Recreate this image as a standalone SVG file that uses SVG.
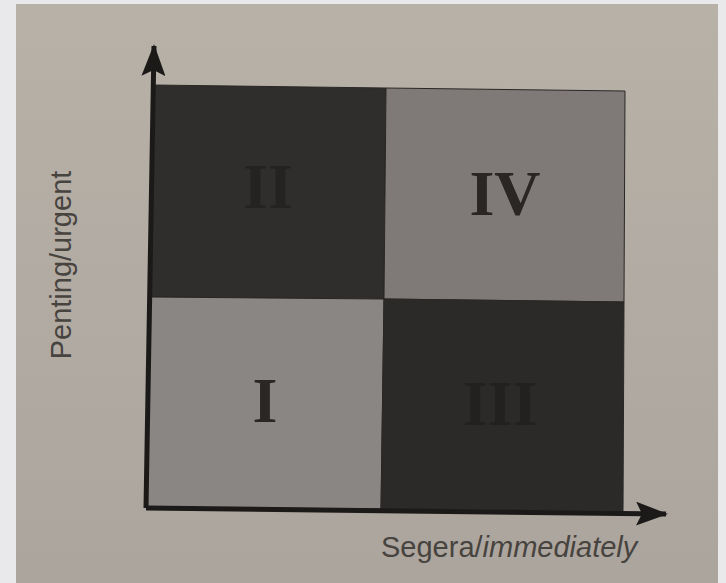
<svg xmlns="http://www.w3.org/2000/svg" width="726" height="583" viewBox="0 0 726 583">
<style>
.q{stroke:#2a2826;stroke-width:1}
.num{font-family:"Liberation Serif",serif;font-size:64px;font-weight:bold;text-anchor:middle}
.lbl{font-family:"Liberation Sans",sans-serif;font-size:29px;fill:#47433f}
.axis{stroke:#1c1a19;stroke-width:5;fill:none}
</style>
<defs>
<linearGradient id="paper" x1="0" y1="0" x2="0" y2="1">
<stop offset="0" stop-color="#b8b1a8"/>
<stop offset="1" stop-color="#aca59d"/>
</linearGradient>
<marker id="arr" markerUnits="userSpaceOnUse" markerWidth="34" markerHeight="24" refX="30" refY="12" orient="auto">
<path d="M0,0 L32,12 L0,24 L6,12 Z" fill="#1c1a19"/>
</marker>
</defs>
<rect x="0" y="0" width="726" height="583" fill="#e9e8ea"/>
<rect x="16" y="4" width="702" height="579" fill="url(#paper)"/>
<g id="q2"><polygon class="q" points="153,85 386,88 384,299 150,297" fill="#302e2c"/><text class="num" x="268" y="208" fill="#252321">II</text></g>
<g id="q4"><polygon class="q" points="386,88 625,91 624,302 384,299" fill="#7f7a77"/><text class="num" x="505" y="215" fill="#2a2624">IV</text></g>
<g id="q1"><polygon class="q" points="150,297 384,299 381,509 146,507" fill="#8a8683"/><text class="num" x="265" y="422" fill="#2a2725">I</text></g>
<g id="q3"><polygon class="q" points="384,299 624,302 623,511 381,509" fill="#2c2a29"/><text class="num" x="500" y="425" fill="#222120">III</text></g>
<g id="connectors">
<line class="axis" x1="146" y1="508" x2="154" y2="46" marker-end="url(#arr)"/>
<line class="axis" x1="146" y1="508" x2="666" y2="514" marker-end="url(#arr)"/>
</g>
<g id="labels">
<text class="lbl" transform="translate(71,265) rotate(-90)" text-anchor="middle">Penting/urgent</text>
<text class="lbl" x="381" y="557">Segera/<tspan font-style="italic">immediately</tspan></text>
</g>
</svg>
